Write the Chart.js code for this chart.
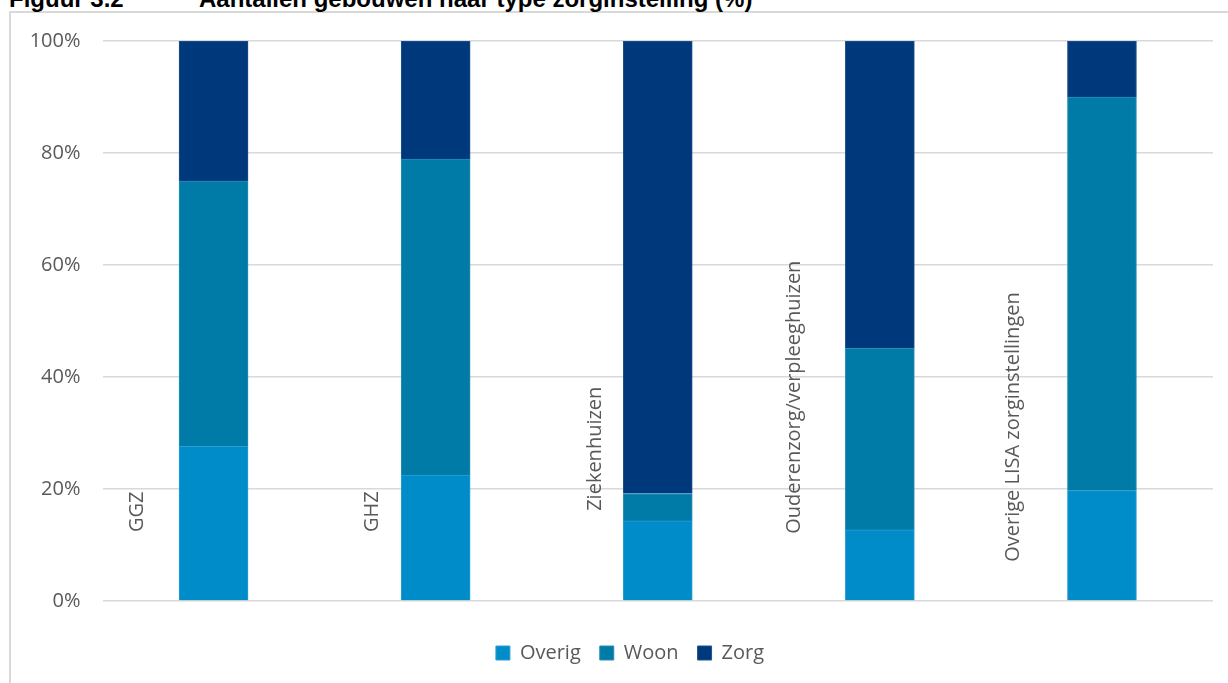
<!DOCTYPE html>
<html>
<head>
<meta charset="utf-8">
<title>Aantallen gebouwen naar type zorginstelling</title>
<script src="https://cdn.jsdelivr.net/npm/chart.js@4.4.0/dist/chart.umd.min.js"></script>
<style>
  html, body { margin: 0; padding: 0; background: #fff; overflow: hidden; }
  #wrap { position: relative; width: 1228px; height: 683px; }
  #kader { position: absolute; left: 9px; top: 11px; width: 1300px; height: 700px;
           border-left: 2px solid #d9d9d9; border-top: 2px solid #d9d9d9; }
  .kop { position: absolute; top: -15px; line-height: 24px; white-space: nowrap;
         font: bold 24px "Liberation Sans", Arial, sans-serif; color: #000; }
  canvas { position: absolute; left: 0; top: 0; }
</style>
</head>
<body>
<div id="wrap">
  <div id="kader"></div>
  <div class="kop" style="left:9px">Figuur 3.2</div>
  <div class="kop" style="left:199px">Aantallen gebouwen naar type zorginstelling (%)</div>
  <canvas id="grafiek" width="1228" height="683"></canvas>
</div>
<script>
// aandeel gebouwen per type zorginstelling (%)
var categories = ['GGZ', 'GHZ', 'Ziekenhuizen', 'Ouderenzorg/verpleeghuizen', 'Overige LISA zorginstellingen'];
var overig = [27.6, 22.5, 14.3, 12.7, 19.7];
var woon   = [47.4, 56.4, 4.9, 32.4, 70.3];
var zorg   = [25.0, 21.1, 80.8, 54.9, 10.0];
var yTicks = [0, 20, 40, 60, 80, 100];

// plek van de staande categorienamen: afstand links van de staaf (px) en beginhoogte (%)
var labelOffset = [76, 63, 62, 86, 89];
var labelStart  = [12.3, 12.3, 16.1, 12.0, 7.0];

var grijs = '#595959';

var categorieLabels = {
    id: 'categorieLabels',
    afterDatasetsDraw: function (chart) {
        var ctx = chart.ctx;
        var x = chart.scales.x, y = chart.scales.y;
        ctx.save();
        ctx.font = '20px "Open Sans"';
        ctx.fillStyle = grijs;
        ctx.textAlign = 'left';
        ctx.textBaseline = 'middle';
        categories.forEach(function (c, i) {
            ctx.save();
            ctx.translate(x.getPixelForValue(i) - labelOffset[i], y.getPixelForValue(labelStart[i]));
            ctx.rotate(-Math.PI / 2);
            ctx.fillText(c, 0, 0);
            ctx.restore();
        });
        ctx.restore();
    }
};

// legenda centreren binnen het kader i.p.v. over de hele breedte
var legendaPlek = {
    id: 'legendaPlek',
    afterLayout: function (chart) {
        if (chart.legend) { chart.legend.left = 47; }
    }
};

new Chart(document.getElementById('grafiek').getContext('2d'), {
    type: 'bar',
    data: {
        labels: categories,
        datasets: [
            { label: 'Overig', data: overig, backgroundColor: '#008cc8', borderColor: '#2a9fd3', borderWidth: 1, barThickness: 69 },
            { label: 'Woon', data: woon, backgroundColor: '#007ba7', borderColor: '#2a8fb5', borderWidth: 1, barThickness: 69 },
            { label: 'Zorg', data: zorg, backgroundColor: '#00397b', borderColor: '#1f5290', borderWidth: 1, barThickness: 69 }
        ]
    },
    options: {
        responsive: false,
        animation: false,
        layout: { padding: { left: 0, right: 15, top: 41, bottom: 10 } },
        plugins: {
            legend: {
                position: 'bottom',
                labels: {
                    color: grijs,
                    font: { family: '"Open Sans"', size: 20 },
                    boxWidth: 14,
                    boxHeight: 14,
                    padding: 19
                }
            },
            tooltip: { enabled: false }
        },
        scales: {
            x: {
                stacked: true,
                grid: { display: false },
                border: { display: false },
                ticks: { display: false },
                afterFit: function (scale) { scale.height = 23; }
            },
            y: {
                stacked: true,
                min: 0,
                max: 100,
                afterBuildTicks: function (scale) {
                    scale.ticks = yTicks.map(function (v) { return { value: v }; });
                },
                ticks: {
                    color: grijs,
                    font: { family: '"Open Sans"', size: 20 },
                    padding: 22,
                    callback: function (v) { return v + '%'; }
                },
                grid: { color: '#d9d9d9', lineWidth: 1.5, drawTicks: false },
                border: { display: false },
                afterFit: function (scale) { scale.width = 102.5; }
            }
        }
    },
    plugins: [categorieLabels, legendaPlek]
});
</script>
</body>
</html>
